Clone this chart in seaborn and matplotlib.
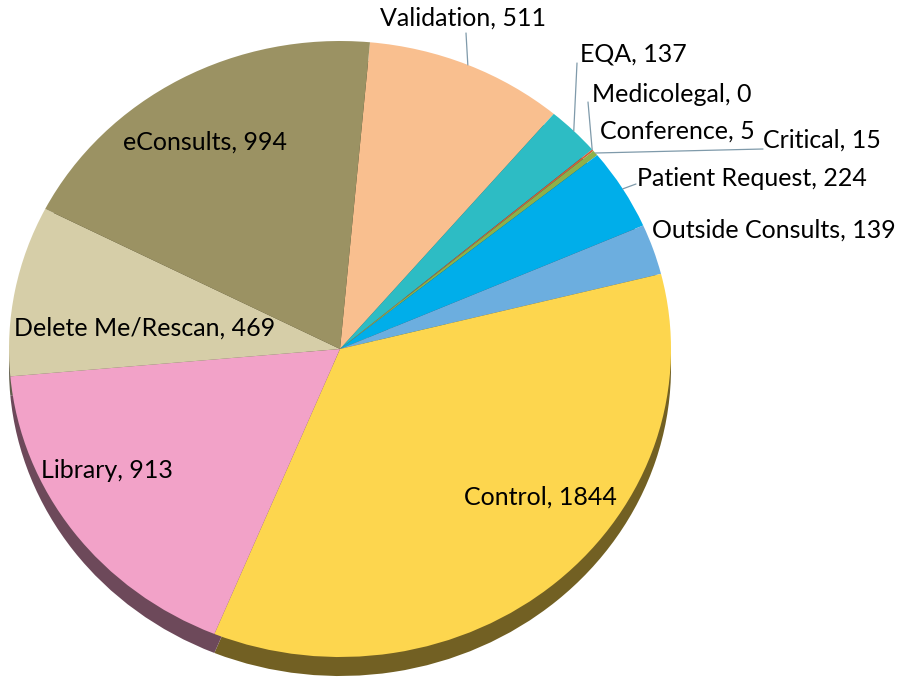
import matplotlib
matplotlib.use("Agg")
import matplotlib.pyplot as plt
import seaborn as sns
import numpy as np

categories = ["Validation", "EQA", "Medicolegal", "Conference", "Critical",
              "Patient Request", "Outside Consults", "Control", "Library",
              "Delete Me/Rescan", "eConsults"]
values = [511, 137, 0, 5, 15, 224, 139, 1844, 913, 469, 994]
colors = ["#F9BF8F", "#2DBCC4", "#C0504D", "#D0603A", "#8DB04A",
          "#00AEEA", "#6CAEDF", "#FDD64E", "#F2A2C8", "#D6CEA8", "#9B9263"]

sns.set_theme(style="white")
plt.rcParams["font.family"] = ["Lato", "DejaVu Sans"]

W, H = 897, 686
fig = plt.figure(figsize=(W / 100, H / 100), dpi=100)
ax = fig.add_axes([0, 0, 1, 1])

K = 308 / 331  # vertical squash of the tilted pie


def P(px, py):
    """pixel position -> data coordinates"""
    return px, (H - py) / K


cx, cy = P(340, 349)
R = 331
depth = 19 / K


def darken(c, f=0.45):
    r, g, b = matplotlib.colors.to_rgb(c)
    return (r * f, g * f, b * f)


# side (depth) of the pie
ax.pie(values, colors=[darken(c) for c in colors], startangle=84.8,
       counterclock=False, radius=R, center=(cx, cy - depth),
       wedgeprops=dict(linewidth=0), frame=True)
# top face
wedges, _ = ax.pie(values, colors=colors, startangle=84.8, counterclock=False,
                   radius=R, center=(cx, cy), wedgeprops=dict(linewidth=0),
                   frame=True)

ax.set_xlim(0, W)
ax.set_ylim(0, H / K)
ax.set_aspect("auto")
ax.axis("off")

labels = [f"{c}, {v}" for c, v in zip(categories, values)]
FS = 18

# label placement: (text x, text y, ha, leader end point or None)
layout = {
    "Validation": (463, 18, "center", (466, 33)),
    "EQA": (580, 54, "left", (577, 63)),
    "Medicolegal": (592, 95, "left", (588, 102)),
    "Conference": (600, 131, "left", None),
    "Critical": (763, 140, "left", (763, 149)),
    "Patient Request": (637, 178, "left", (636, 184)),
    "Outside Consults": (652, 230, "left", None),
    "Control": (540, 497, "center", None),
    "Library": (107, 470, "center", None),
    "Delete Me/Rescan": (145, 328, "center", None),
    "eConsults": (205, 142, "center", None),
}

for w, cat, lab in zip(wedges, categories, labels):
    tx, ty, ha, lead = layout[cat]
    x, y = P(tx, ty)
    ax.text(x, y, lab, ha=ha, va="center", fontsize=FS, color="black")
    if lead is not None:
        mid = np.deg2rad((w.theta1 + w.theta2) / 2)
        ax_, ay_ = cx + R * np.cos(mid), cy + R * np.sin(mid)
        lx, ly = P(*lead)
        ax.plot([ax_, lx], [ay_, ly], color="#7F9AAA", lw=0.9)

fig.savefig("out.png", dpi=100, facecolor="white")
